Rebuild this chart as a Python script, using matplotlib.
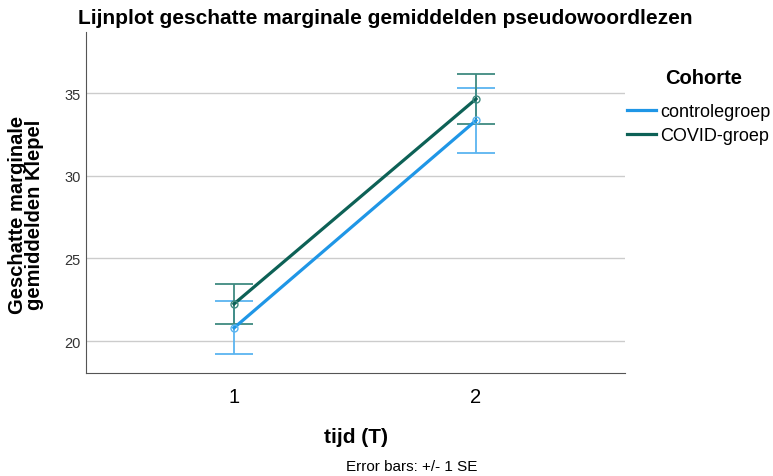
import matplotlib.pyplot as plt
from matplotlib.lines import Line2D

plt.rcParams["font.family"] = ["Liberation Sans", "DejaVu Sans"]

# --- Data ---
tijd = [1, 2]
groepen = ["controlegroep", "COVID-groep"]
controle_mean = [20.8, 33.35]
controle_se = [1.6, 1.95]
covid_mean = [22.25, 34.65]
covid_se = [1.22, 1.5]

CONTROL_COLOR = "#1f96e6"
CONTROL_ERR = "#5ab4f0"
COVID_COLOR = "#0d6156"
COVID_ERR = "#3f8a80"

fig = plt.figure(figsize=(7.73, 4.77), dpi=100)
ax = fig.add_axes([86 / 773, 1 - 374 / 477, (625 - 86) / 773, (374 - 33) / 477])

# error bars (+/- 1 SE)
ax.errorbar(tijd, controle_mean, yerr=controle_se, fmt="none", ecolor=CONTROL_ERR,
            elinewidth=1.3, capsize=13.5, capthick=1.3, zorder=2)
ax.errorbar(tijd, covid_mean, yerr=covid_se, fmt="none", ecolor=COVID_ERR,
            elinewidth=1.3, capsize=13.5, capthick=1.3, zorder=2)

# lines with open circle markers
ax.plot(tijd, controle_mean, color=CONTROL_COLOR, linewidth=2.3, zorder=3)
ax.plot(tijd, controle_mean, linestyle="none", marker="o", markersize=5,
        markerfacecolor="none", markeredgecolor=CONTROL_ERR, markeredgewidth=1, zorder=4)
ax.plot(tijd, covid_mean, color=COVID_COLOR, linewidth=2.3, zorder=3)
ax.plot(tijd, covid_mean, linestyle="none", marker="o", markersize=5,
        markerfacecolor="none", markeredgecolor=COVID_ERR, markeredgewidth=1, zorder=4)

ax.set_xlim(0.388, 2.616)
ax.set_ylim(18.07, 38.7)
ax.set_xticks(tijd)
ax.set_xticklabels([str(t) for t in tijd], fontsize=14.5)
ax.set_yticks([20, 25, 30, 35])
ax.tick_params(axis="y", labelsize=10.5, length=0, pad=4, labelcolor="#333333")
ax.tick_params(axis="x", length=0, pad=10)
ax.grid(axis="y", color="#cccccc", linewidth=1)
ax.set_axisbelow(True)

for side in ["top", "right"]:
    ax.spines[side].set_visible(False)
for side in ["left", "bottom"]:
    ax.spines[side].set_color("#555555")

ax.set_xlabel("tijd (T)", fontsize=15, fontweight="bold", labelpad=15)
fig.text(26 / 773, 1 - 215 / 477, "Geschatte marginale\ngemiddelden Klepel",
         fontsize=14.5, fontweight="bold", rotation=90, ha="center", va="center",
         linespacing=0.86)

fig.text(78 / 773, 1 - 18 / 477, "Lijnplot geschatte marginale gemiddelden pseudowoordlezen",
         fontsize=15, fontweight="bold", va="center", ha="left")
fig.text(412 / 773, 1 - 467 / 477, "Error bars: +/- 1 SE", fontsize=11,
         va="center", ha="center")

# legend: title drawn separately to get the wide gap of the reference
fig.text(704 / 773, 1 - 78 / 477, "Cohorte", fontsize=14.5, fontweight="bold",
         ha="center", va="center")
handles = [Line2D([], [], color=CONTROL_COLOR, linewidth=2.3),
           Line2D([], [], color=COVID_COLOR, linewidth=2.3)]
leg = fig.legend(handles, groepen, loc="upper left", bbox_to_anchor=(627 / 773, 1 - 104 / 477),
                 frameon=False, fontsize=13, handlelength=1.6,
                 handletextpad=0.25, labelspacing=0.4, borderaxespad=0.0,
                 borderpad=0.0)

fig.savefig("out.png", dpi=100)
